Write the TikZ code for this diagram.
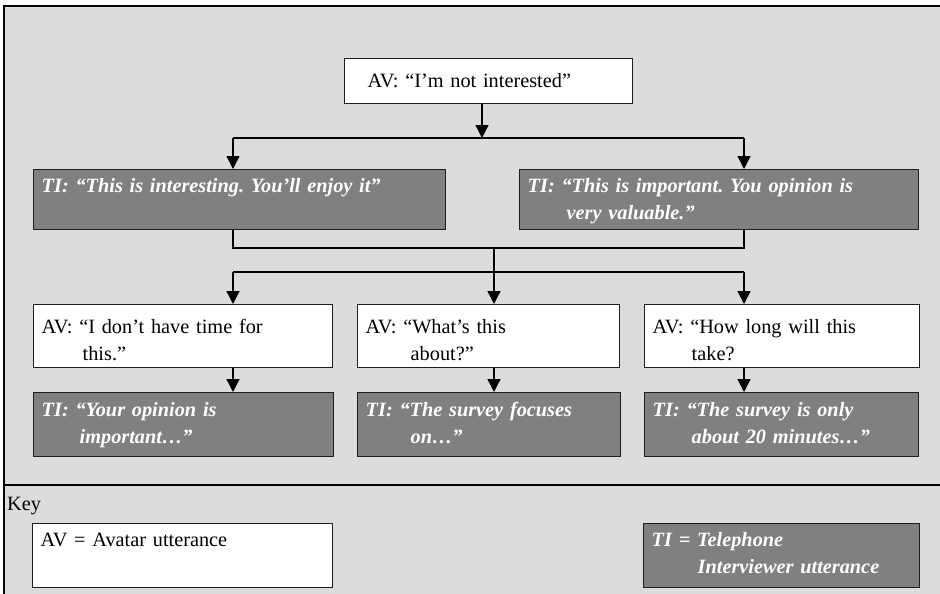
\documentclass[tikz,border=0pt]{standalone}
\usepackage{fontspec}
\setmainfont{Liberation Serif}
\usetikzlibrary{arrows.meta}
\definecolor{panelgray}{RGB}{220,220,220}
\definecolor{tigray}{RGB}{128,128,128}
\definecolor{edgegray}{RGB}{30,30,30}
\newcommand{\uttfont}{\fontsize{20.3}{27}\selectfont\frenchspacing}

\begin{document}
\begin{tikzpicture}[x=1pt, y=-1pt, >={Triangle[width=13pt,length=13pt]},
	utt/.style={draw=edgegray, line width=1.4pt, anchor=north west, inner xsep=8pt, inner ysep=0pt, align=left, font=\uttfont},
	av/.style={utt, fill=white, text=black},
	ti/.style={utt, fill=tigray, text=white, font=\uttfont\bfseries\itshape},
	wire/.style={line width=1.3pt}]
	\useasboundingbox (0,0) rectangle (940,594);
	
	% Grey panel with its frame and the key separator
	\fill[panelgray] (4,6) rectangle (940,594);
	\draw[wire] (940,6) -- (4,6) -- (4,594);
	\draw[wire] (4,485) -- (940,485);
	
	% Opening avatar utterance
	\node[av, inner xsep=23pt, text width=242pt, text height=29pt, text depth=16pt] (top) at (344,58) {AV: “I’m not interested”};
	
	% First interviewer replies
	\node[ti, text width=396pt, text height=23pt, text depth=37pt] (enjoy) at (33,169) {TI: “This is interesting. You’ll enjoy it”};
	\node[ti, text width=383pt, text height=23pt, text depth=37pt] (valuable) at (519,169) {TI: “This is important. You opinion is\\\hspace*{39pt}very valuable.”};
	
	% Follow-up avatar utterances
	\node[av, text width=283pt, text height=29pt, text depth=34pt] (notime) at (33,304) {AV: “I don’t have time for\\\hspace*{41pt}this.”};
	\node[av, text width=246pt, text height=29pt, text depth=34pt] (whatabout) at (357,304) {AV: “What’s this\\\hspace*{45pt}about?”};
	\node[av, text width=259pt, text height=29pt, text depth=34pt] (howlong) at (644,304) {AV: “How long will this\\\hspace*{39pt}take?};
	
	% Matching interviewer replies
	\node[ti, text width=284pt, text height=24pt, text depth=40pt] (opinion) at (33,392) {TI: “Your opinion is\\\hspace*{38pt}important…”};
	\node[ti, text width=247pt, text height=24pt, text depth=40pt] (focus) at (357,392) {TI: “The survey focuses\\\hspace*{45pt}on…”};
	\node[ti, text width=258pt, text height=24pt, text depth=40pt] (minutes) at (644,392) {TI: “The survey is only\\\hspace*{39pt}about 20 minutes…”};
	
	% Key
	\node[anchor=base west, inner sep=0pt, font=\uttfont] (keylbl) at (7,510) {Key};
	\node[av, text width=284pt, text height=23pt, text depth=41pt] (keyav) at (32,523) {AV = Avatar utterance};
	\node[ti, text width=260pt, text height=23pt, text depth=41pt] (keyti) at (643,523) {TI = Telephone\\\hspace*{46pt}Interviewer utterance};
	
	% Split after the opening utterance
	\coordinate (split) at (482,138);
	\coordinate (splitL) at (233,138);
	\coordinate (splitR) at (744,138);
	\draw[wire,->] (top.south -| split) -- (split);
	\draw[wire] (splitL) -- (splitR);
	\draw[wire,->] (splitL) -- (splitL |- enjoy.north);
	\draw[wire,->] (splitR) -- (splitR |- valuable.north);
	
	% Join the two replies, then fan out again
	\coordinate (joinL) at (233,248);
	\coordinate (joinR) at (744,248);
	\draw[wire] (joinL |- enjoy.south) -- (joinL) -- (joinR) -- (joinR |- valuable.south);
	\coordinate (fanL) at (233,272);
	\coordinate (fanM) at (494,272);
	\coordinate (fanR) at (744,272);
	\draw[wire] (fanM |- joinL) -- (fanM);
	\draw[wire] (fanL) -- (fanR);
	\foreach \f/\a/\t in {fanL/notime/opinion, fanM/whatabout/focus, fanR/howlong/minutes} {
		\draw[wire,->] (\f) -- (\f |- \a.north);
		\draw[wire,->] (\f |- \a.south) -- (\f |- \t.north);
	}
	
\end{tikzpicture}
\end{document}
